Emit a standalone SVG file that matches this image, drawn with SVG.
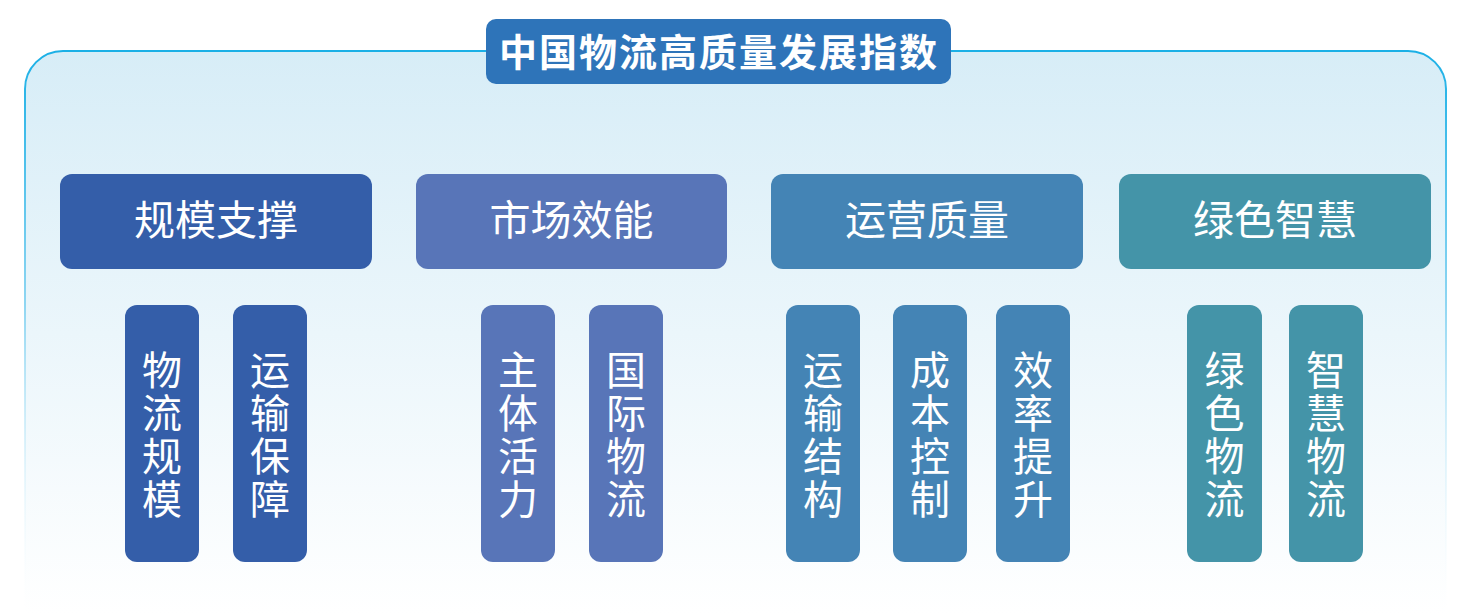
<svg xmlns="http://www.w3.org/2000/svg" width="1467" height="615" viewBox="0 0 1467 615">
<defs>
<linearGradient id="bgFill" gradientUnits="userSpaceOnUse" x1="0" y1="51" x2="0" y2="615">
<stop offset="0" stop-color="#d7edf7"/>
<stop offset="1" stop-color="#ffffff"/>
</linearGradient>
<linearGradient id="bgStroke" gradientUnits="userSpaceOnUse" x1="0" y1="51" x2="0" y2="615">
<stop offset="0" stop-color="#1bb0e6"/>
<stop offset="0.45" stop-color="#8fd6f2"/>
<stop offset="1" stop-color="#ffffff" stop-opacity="0"/>
</linearGradient>
</defs>
<style>
.t{font-family:"Noto Sans CJK SC","Noto Sans",sans-serif;fill:#ffffff;text-anchor:middle}
.h{font-size:41px}
.v{font-size:40px;writing-mode:vertical-rl;text-anchor:start;letter-spacing:3px}
.c1{fill:#345ea9}
.c2{fill:#5875b8}
.c3{fill:#4484b5}
.c4{fill:#4494a8}
</style>
<rect width="1467" height="615" fill="#ffffff"/>
<path d="M25 660 V89 A38 38 0 0 1 63 51 H1408 A38 38 0 0 1 1446 89 V660" fill="url(#bgFill)" stroke="url(#bgStroke)" stroke-width="2"/>
<g id="title">
<rect x="486" y="19" width="465" height="65" rx="10" fill="#2e74b9"/>
<text class="t" x="719" y="66" font-size="38" font-weight="bold" letter-spacing="2">中国物流高质量发展指数</text>
</g>
<g id="connectors"></g>
<g id="h1"><rect class="c1" x="60" y="174" width="312" height="95" rx="12"/><text class="t h" x="216" y="235">规模支撑</text></g>
<g id="h2"><rect class="c2" x="416" y="174" width="311" height="95" rx="12"/><text class="t h" x="571.5" y="235">市场效能</text></g>
<g id="h3"><rect class="c3" x="771" y="174" width="312" height="95" rx="12"/><text class="t h" x="927" y="235">运营质量</text></g>
<g id="h4"><rect class="c4" x="1119" y="174" width="312" height="95" rx="12"/><text class="t h" x="1275" y="235">绿色智慧</text></g>

<g id="s1"><rect class="c1" x="125" y="305" width="74" height="257" rx="12"/><text class="t v" x="162" y="350">物流规模</text></g>
<g id="s2"><rect class="c1" x="233" y="305" width="74" height="257" rx="12"/><text class="t v" x="270" y="350">运输保障</text></g>
<g id="s3"><rect class="c2" x="481" y="305" width="74" height="257" rx="12"/><text class="t v" x="518" y="350">主体活力</text></g>
<g id="s4"><rect class="c2" x="589" y="305" width="74" height="257" rx="12"/><text class="t v" x="626" y="350">国际物流</text></g>
<g id="s5"><rect class="c3" x="786" y="305" width="74" height="257" rx="12"/><text class="t v" x="823" y="350">运输结构</text></g>
<g id="s6"><rect class="c3" x="893" y="305" width="74" height="257" rx="12"/><text class="t v" x="930" y="350">成本控制</text></g>
<g id="s7"><rect class="c3" x="996" y="305" width="74" height="257" rx="12"/><text class="t v" x="1033" y="350">效率提升</text></g>
<g id="s8"><rect class="c4" x="1187" y="305" width="75" height="257" rx="12"/><text class="t v" x="1224.5" y="350">绿色物流</text></g>
<g id="s9"><rect class="c4" x="1289" y="305" width="74" height="257" rx="12"/><text class="t v" x="1326" y="350">智慧物流</text></g>
</svg>
